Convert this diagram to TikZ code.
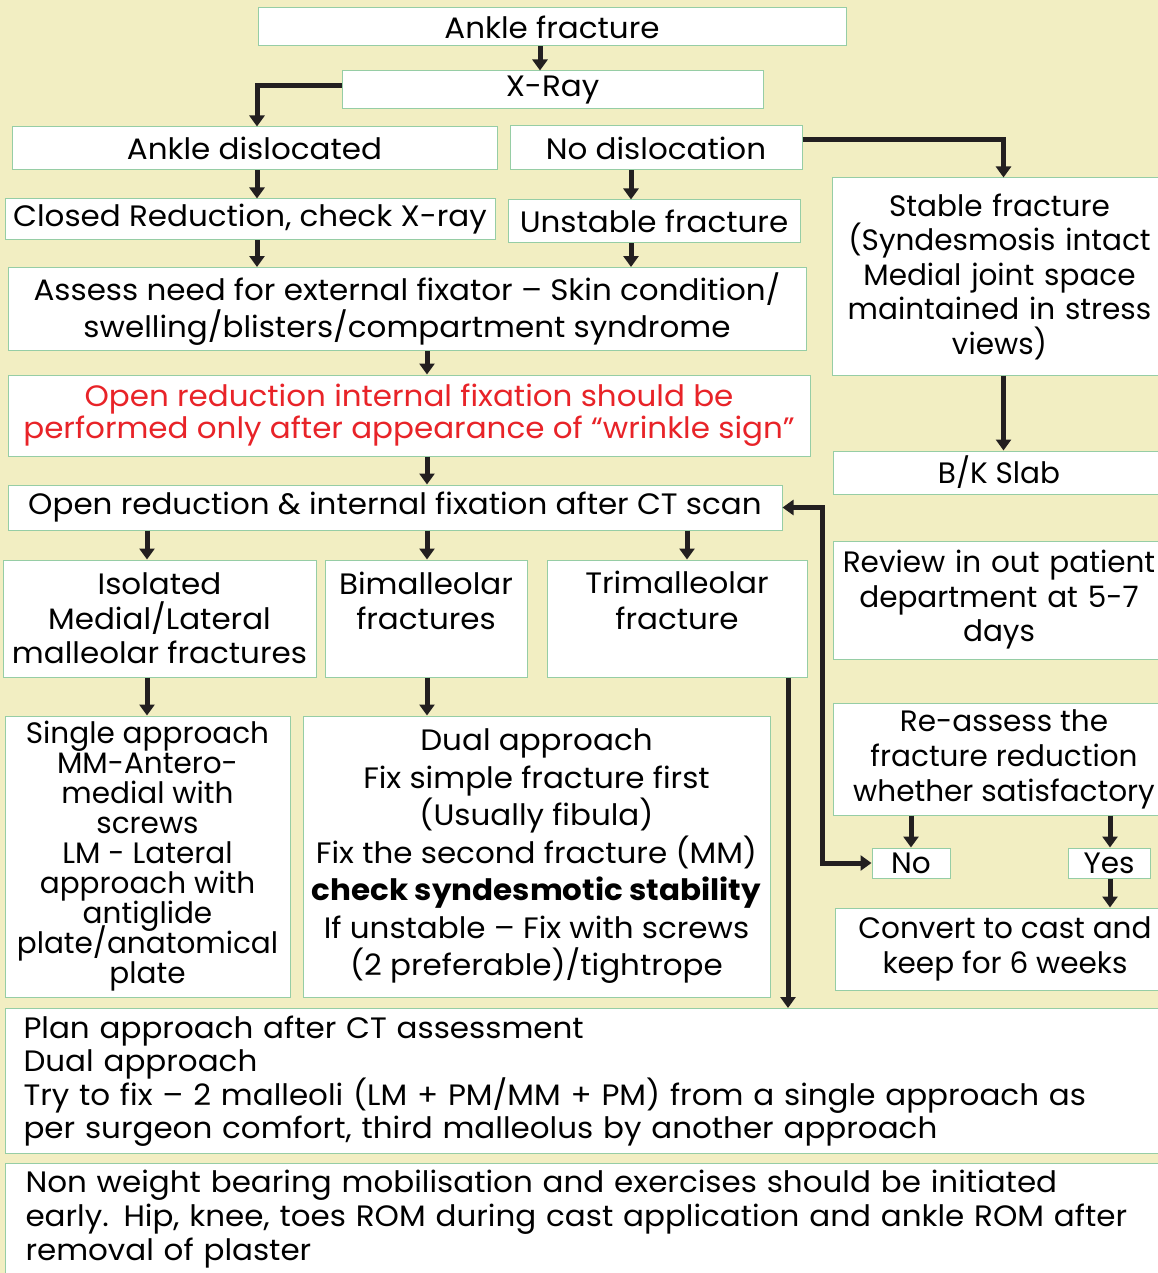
\documentclass[tikz,border=0pt]{standalone}
\usepackage{fontspec}
\setmainfont{Poppins}[FakeStretch=1.05]
\newfontfamily\plainpop{Poppins}
\usetikzlibrary{arrows.meta,calc}
\definecolor{bgc}{RGB}{242,238,194}
\definecolor{edgec}{RGB}{150,205,165}
\definecolor{redc}{RGB}{232,35,40}
\definecolor{arrc}{RGB}{35,31,32}
\newcommand\fsz[1]{\fontsize{29.5}{#1}\selectfont\lineskiplimit=-60pt\relax}
\newcommand\fszp[1]{\plainpop\fontsize{29.5}{#1}\selectfont\lineskiplimit=-60pt\relax}
\tikzset{
  box/.style={draw=edgec, line width=1pt, fill=white, inner sep=0pt, align=center, font=\fsz{35}},
  arr/.style={draw=arrc, line width=5pt, -{Triangle[width=15pt,length=11pt]}},
  arrb/.style={draw=arrc, line width=5pt, {Triangle[width=15pt,length=11pt]}-{Triangle[width=15pt,length=11pt]}},
}
\begin{document}
\begin{tikzpicture}[x=1pt,y=-1pt]
\useasboundingbox (0,0) rectangle (1158,1273);
\fill[bgc] (0,0) rectangle (1158,1273);
% x positions of connectors
\coordinate (xA) at (540,0);
\coordinate (xB) at (257,0);
\coordinate (xC) at (631,0);
\coordinate (xD) at (427,0);
\coordinate (xF) at (147,0);
\coordinate (xG) at (687,0);
\coordinate (xH) at (788,0);
\coordinate (xI) at (911,0);
\coordinate (xJ) at (1110,0);
\coordinate (xK) at (822,0);
% boxes
\node[box, minimum width=588pt, minimum height=38pt] (anklef) at (552,27) {Ankle fracture};
\node[box, minimum width=421pt, minimum height=38pt] (xray) at (552.5,90) {X-Ray};
\node[box, minimum width=485pt, minimum height=43pt] (disl) at (254.5,148.5) {Ankle dislocated};
\node[box, minimum width=292pt, minimum height=44pt] (nodisl) at (656,148) {No dislocation};
\node[box, minimum width=343pt, minimum height=197pt, font=\fszp{34.5}, text width=320pt] (stable) at (1003.5,276.5) {\hspace*{-8pt}Stable fracture\\\hspace*{-8pt}(Syndesmosis intact\\\hspace*{-8pt}Medial joint space\\\hspace*{-8pt}maintained in stress\\\hspace*{-8pt}views)};
\node[box, minimum width=490pt, minimum height=41pt] (closed) at (250,219.5) {Closed Reduction, check X-ray};
\node[box, minimum width=292pt, minimum height=43pt] (unstable) at (654,221.5) {Unstable fracture};
\node[box, minimum width=798pt, minimum height=83pt, font=\fsz{37}] (assess) at (407,309) {Assess need for external fixator -- Skin condition/\\swelling/blisters/compartment syndrome};
\node[box, minimum width=802pt, minimum height=81pt, font=\fsz{32}, text=redc] (red) at (409,415.5) {Open reduction internal fixation should be\\performed only after appearance of “wrinkle sign”};
\node[box, minimum width=774pt, minimum height=45pt] (orif) at (395,507.5) {Open reduction \& internal fixation after CT scan};
\node[box, minimum width=342pt, minimum height=43pt, font=\fszp{35}] (bk) at (1004,472.5) {\hspace*{-10pt}B/K Slab};
\node[box, minimum width=313pt, minimum height=117pt, font=\fsz{34.5}] (iso) at (159.5,618.5) {Isolated\\Medial/Lateral\\malleolar fractures};
\node[box, minimum width=202pt, minimum height=117pt, font=\fsz{35}] (bim) at (426,618.5) {Bimalleolar\\fractures\\\mbox{}};
\node[box, minimum width=260pt, minimum height=117pt, font=\fsz{36}] (tri) at (677,618.5) {Trimalleolar\\fracture\\\mbox{}};
\node[box, minimum width=342pt, minimum height=118pt, font=\fszp{34.5}, text width=320pt] (review) at (1004,600) {\hspace*{-10pt}Review in out patient\\\hspace*{-10pt}department at 5-7\\\hspace*{-10pt}days};
\node[box, minimum width=342pt, minimum height=112pt, font=\fszp{35}] (reassess) at (1004,759) {Re-assess the\\fracture reduction\\whether satisfactory};
\node[box, minimum width=78pt, minimum height=30pt, font=\fszp{35}] (no) at (911,863) {No};
\node[box, minimum width=82pt, minimum height=30pt, font=\fszp{35}] (yes) at (1109,863) {Yes};
\node[box, minimum width=340pt, minimum height=82pt, font=\fszp{35}] (convert) at (1005,949) {Convert to cast and\\keep for 6 weeks};
\node[box, minimum width=285pt, minimum height=281pt, font=\fszp{30}] (single) at (147.5,856.5) {Single approach\\MM-Antero-\\medial with\\screws\\LM - Lateral\\approach with\\antiglide\\plate/anatomical\\plate};
\node[box, minimum width=467pt, minimum height=281pt, font=\fsz{37.5}] (dual) at (536.5,856.5) {Dual approach\\Fix simple fracture first\\(Usually fibula)\\Fix the second fracture (MM)\\\textbf{check syndesmotic stability}\\If unstable -- Fix with screws\\(2 preferable)/tightrope};
\node[box, anchor=north west, text width=1134pt, inner xsep=18pt, minimum height=145pt, align=left, font=\fsz{33.5}] (plan) at (5,1008) {Plan approach after CT assessment\\Dual approach\\Try to fix -- 2 malleoli (LM + PM/MM + PM) from a single approach as\\per surgeon comfort, third malleolus by another approach};
\node[box, anchor=north west, text width=1134pt, inner xsep=20pt, minimum height=112pt, align=left, font=\fsz{34}] (nwb) at (5,1163) {Non weight bearing mobilisation and exercises should be initiated\\early. Hip, knee, toes ROM during cast application and ankle ROM after\\removal of plaster};
% connectors
\draw[arr] (anklef.south -| xA) -- (xray.north -| xA);
\draw[arr] ([yshift=4pt]xray.west) -| (disl.north -| xB);
\draw[arr] ([yshift=8pt]nodisl.east) -| (stable.north);
\draw[arr] (disl.south -| xB) -- (closed.north -| xB);
\draw[arr] (nodisl.south -| xC) -- (unstable.north -| xC);
\draw[arr] (closed.south -| xB) -- (assess.north -| xB);
\draw[arr] (unstable.south -| xC) -- (assess.north -| xC);
\draw[arr] (assess.south -| xD) -- (red.north -| xD);
\draw[arr] (red.south -| xD) -- (orif.north -| xD);
\draw[arr] (stable.south) -- (bk.north -| stable.south);
\draw[arr] (orif.south -| xF) -- (iso.north -| xF);
\draw[arr] (orif.south -| xD) -- (bim.north -| xD);
\draw[arr] (orif.south -| xG) -- (tri.north -| xG);
\draw[arr] (iso.south -| xF) -- (single.north -| xF);
\draw[arr] (bim.south -| xD) -- (dual.north -| xD);
\draw[arr] (tri.south -| xH) -- (plan.north -| xH);
\draw[arr] (reassess.south -| xI) -- (no.north -| xI);
\draw[arr] (reassess.south -| xJ) -- (yes.north -| xJ);
\draw[arr] (yes.south -| xJ) -- (convert.north -| xJ);
\draw[arrb] (orif.east) -| (xK |- no.west) -- (no.west);
\end{tikzpicture}
\end{document}
